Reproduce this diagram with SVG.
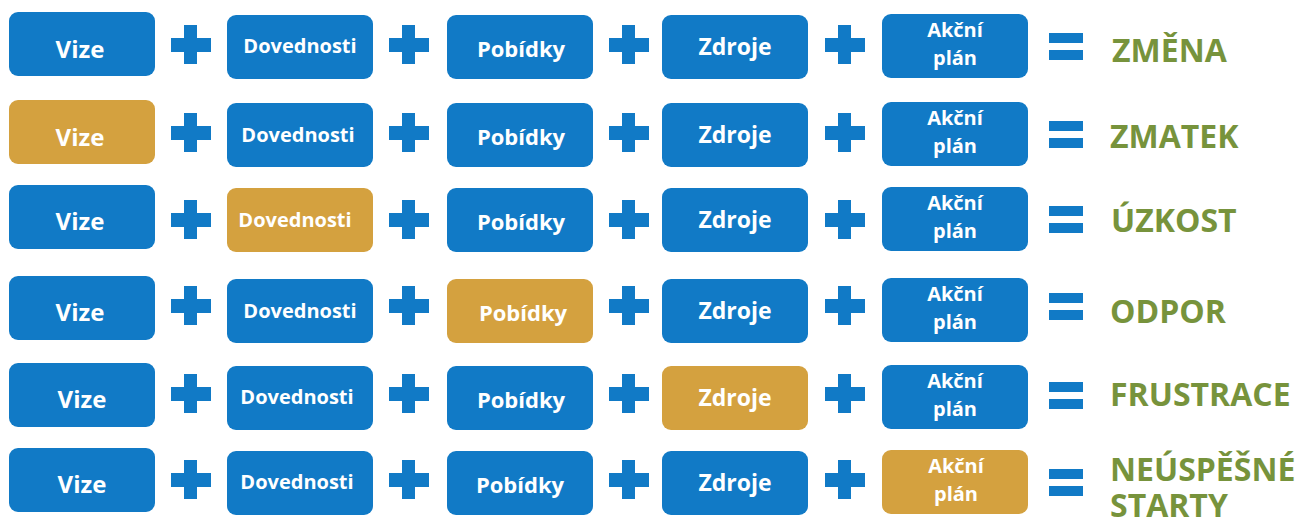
<svg xmlns="http://www.w3.org/2000/svg" xmlns:xlink="http://www.w3.org/1999/xlink" width="1295" height="525" viewBox="0 0 1295 525">
<style>
.b{fill:#117AC6}
.g{fill:#D4A13F}
.t{font-family:"Open Sans","Liberation Sans",sans-serif;font-weight:700;fill:#fff;text-anchor:middle}
.v{font-size:24px}
.d{font-size:20px}
.p{font-size:22px}
.z{font-size:23px}
.a{font-size:20px}
.r{font-family:"Open Sans","Liberation Sans",sans-serif;font-weight:700;font-size:32px;fill:#77933C}
.op{fill:#117AC6}
</style>
<defs>
<path id="plus" d="M-20,-7 H-7 V-20 H6 V-7 H20 V7 H6 V19 H-7 V7 H-20 Z"/>
<path id="eq" d="M-17,-13 H17 V-3 H-17 Z M-17,4 H17 V14 H-17 Z"/>
</defs>
<rect width="1295" height="525" fill="#fff"/>

<g id="row1">
<g id="r1-vize"><rect class="b" x="9" y="12" width="146" height="64" rx="9"/><text class="t v" x="80" y="58">Vize</text></g>
<g id="r1-dov"><rect class="b" x="227" y="15" width="146" height="64" rx="9"/><text class="t d" x="300" y="53">Dovednosti</text></g>
<g id="r1-pob"><rect class="b" x="447" y="15" width="146" height="64" rx="9"/><text class="t p" x="521" y="57">Pobídky</text></g>
<g id="r1-zdr"><rect class="b" x="662" y="15" width="146" height="64" rx="9"/><text class="t z" x="735" y="55">Zdroje</text></g>
<g id="r1-akc"><rect class="b" x="882" y="14" width="146" height="64" rx="9"/><text class="t a" x="955" y="37">Akční</text><text class="t a" x="955" y="65">plán</text></g>
<text id="r1-res" class="r" x="1112" y="62">ZMĚNA</text>
</g>

<g id="row2">
<g id="r2-vize"><rect class="g" x="9" y="100" width="146" height="64" rx="9"/><text class="t v" x="80" y="146">Vize</text></g>
<g id="r2-dov"><rect class="b" x="227" y="103" width="146" height="64" rx="9"/><text class="t d" x="298" y="142">Dovednosti</text></g>
<g id="r2-pob"><rect class="b" x="447" y="103" width="146" height="64" rx="9"/><text class="t p" x="521" y="145">Pobídky</text></g>
<g id="r2-zdr"><rect class="b" x="662" y="103" width="146" height="64" rx="9"/><text class="t z" x="735" y="143">Zdroje</text></g>
<g id="r2-akc"><rect class="b" x="882" y="102" width="146" height="64" rx="9"/><text class="t a" x="955" y="125">Akční</text><text class="t a" x="955" y="153">plán</text></g>
<text id="r2-res" class="r" x="1110" y="148">ZMATEK</text>
</g>

<g id="row3">
<g id="r3-vize"><rect class="b" x="9" y="185" width="146" height="64" rx="9"/><text class="t v" x="80" y="230">Vize</text></g>
<g id="r3-dov"><rect class="g" x="227" y="188" width="146" height="64" rx="9"/><text class="t d" x="295" y="227">Dovednosti</text></g>
<g id="r3-pob"><rect class="b" x="447" y="188" width="146" height="64" rx="9"/><text class="t p" x="521" y="230">Pobídky</text></g>
<g id="r3-zdr"><rect class="b" x="662" y="188" width="146" height="64" rx="9"/><text class="t z" x="735" y="228">Zdroje</text></g>
<g id="r3-akc"><rect class="b" x="882" y="187" width="146" height="64" rx="9"/><text class="t a" x="955" y="210">Akční</text><text class="t a" x="955" y="238">plán</text></g>
<text id="r3-res" class="r" x="1111" y="232">ÚZKOST</text>
</g>

<g id="row4">
<g id="r4-vize"><rect class="b" x="9" y="276" width="146" height="64" rx="9"/><text class="t v" x="80" y="321">Vize</text></g>
<g id="r4-dov"><rect class="b" x="227" y="279" width="146" height="64" rx="9"/><text class="t d" x="300" y="318">Dovednosti</text></g>
<g id="r4-pob"><rect class="g" x="447" y="279" width="146" height="64" rx="9"/><text class="t p" x="523" y="321">Pobídky</text></g>
<g id="r4-zdr"><rect class="b" x="662" y="279" width="146" height="64" rx="9"/><text class="t z" x="735" y="319">Zdroje</text></g>
<g id="r4-akc"><rect class="b" x="882" y="278" width="146" height="64" rx="9"/><text class="t a" x="955" y="301">Akční</text><text class="t a" x="955" y="329">plán</text></g>
<text id="r4-res" class="r" x="1110" y="323">ODPOR</text>
</g>

<g id="row5">
<g id="r5-vize"><rect class="b" x="9" y="363" width="146" height="64" rx="9"/><text class="t v" x="82" y="408">Vize</text></g>
<g id="r5-dov"><rect class="b" x="227" y="366" width="146" height="64" rx="9"/><text class="t d" x="297" y="404">Dovednosti</text></g>
<g id="r5-pob"><rect class="b" x="447" y="366" width="146" height="64" rx="9"/><text class="t p" x="521" y="408">Pobídky</text></g>
<g id="r5-zdr"><rect class="g" x="662" y="366" width="146" height="64" rx="9"/><text class="t z" x="735" y="406">Zdroje</text></g>
<g id="r5-akc"><rect class="b" x="882" y="365" width="146" height="64" rx="9"/><text class="t a" x="955" y="388">Akční</text><text class="t a" x="955" y="416">plán</text></g>
<text id="r5-res" class="r" x="1110" y="406">FRUSTRACE</text>
</g>

<g id="row6">
<g id="r6-vize"><rect class="b" x="9" y="448" width="146" height="64" rx="9"/><text class="t v" x="82" y="493">Vize</text></g>
<g id="r6-dov"><rect class="b" x="227" y="451" width="146" height="64" rx="9"/><text class="t d" x="297" y="489">Dovednosti</text></g>
<g id="r6-pob"><rect class="b" x="447" y="451" width="146" height="64" rx="9"/><text class="t p" x="520" y="493">Pobídky</text></g>
<g id="r6-zdr"><rect class="b" x="662" y="451" width="146" height="64" rx="9"/><text class="t z" x="735" y="491">Zdroje</text></g>
<g id="r6-akc"><rect class="g" x="882" y="450" width="146" height="64" rx="9"/><text class="t a" x="956" y="473">Akční</text><text class="t a" x="956" y="501">plán</text></g>
<text id="r6-res" class="r"><tspan x="1110" y="481">NEÚSPĚŠNÉ</tspan><tspan x="1110" y="517">STARTY</tspan></text>
</g>

<g id="operators" class="op">
<use href="#plus" x="191" y="45"/><use href="#plus" x="409" y="45"/><use href="#plus" x="629" y="45"/><use href="#plus" x="845" y="45"/><use href="#eq" x="1066" y="46"/>
<use href="#plus" x="191" y="133"/><use href="#plus" x="409" y="133"/><use href="#plus" x="629" y="133"/><use href="#plus" x="845" y="133"/><use href="#eq" x="1066" y="134"/>
<use href="#plus" x="191" y="220"/><use href="#plus" x="409" y="220"/><use href="#plus" x="629" y="220"/><use href="#plus" x="845" y="220"/><use href="#eq" x="1066" y="219"/>
<use href="#plus" x="191" y="306"/><use href="#plus" x="409" y="306"/><use href="#plus" x="629" y="306"/><use href="#plus" x="845" y="306"/><use href="#eq" x="1066" y="306"/>
<use href="#plus" x="191" y="394"/><use href="#plus" x="409" y="394"/><use href="#plus" x="629" y="394"/><use href="#plus" x="845" y="394"/><use href="#eq" x="1066" y="395"/>
<use href="#plus" x="191" y="480"/><use href="#plus" x="409" y="480"/><use href="#plus" x="629" y="480"/><use href="#plus" x="845" y="480"/><use href="#eq" x="1066" y="482"/>
</g>
</svg>
